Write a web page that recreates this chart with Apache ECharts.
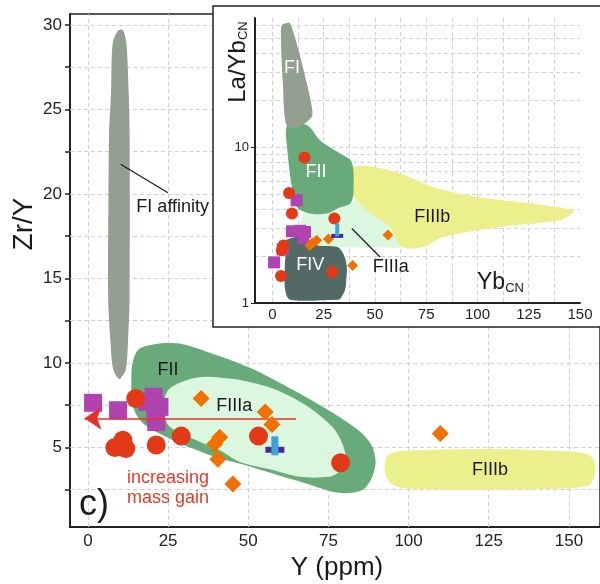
<!DOCTYPE html>
<html>
<head>
<meta charset="utf-8">
<script src="https://cdn.jsdelivr.net/npm/echarts@6/dist/echarts.min.js"></script>
<style>
html,body{margin:0;padding:0;background:#fff;}
#chartmain{width:600px;height:584px;}
</style>
</head>
<body>
<div id="chartmain"></div>
<script>
var FONT = "'Liberation Sans', Arial, sans-serif";

// ---- main plot: Zr/Y vs Y (ppm) ----
var circles = [[14.9,7.9],[8.4,5.0],[10.9,5.43],[11.8,4.94],[21.3,5.14],[29.1,5.67],[53.2,5.67],[78.8,4.09]];
var squares = [[1.6,7.64],[9.4,7.2],[18.5,7.7],[20.5,8.0],[22.3,7.4],[21.0,7.0],[21.3,6.5]];
var diamonds = [[35.3,7.9],[39.5,5.2],[41.1,5.6],[40.5,4.3],[45.2,2.83],[55.3,7.1],[57.4,6.36],[109.9,5.83]];
var cross = [[58.3,4.86]];

var fiField = [[9.3,29.65],[10.9,29.7],[12.0,28.9],[12.7,26],[13.0,23.6],[13.0,14],[12.5,11.3],[11.8,9.6],[10.2,9.1],[9.6,9.05],[7.9,9.6],[7.0,11.3],[6.3,14],[6.4,20],[6.6,23.6],[7.2,26],[7.7,28.9]];
var fiiField = [[13.6,9.57],[14.5,10.4],[16.2,10.86],[22.4,11.15],[29.6,11.11],[38,10.6],[47.2,9.97],[53.4,9.47],[65.9,8.2],[78.3,6.81],[85.5,5.83],[88.7,5.04],[89.7,4.05],[88.2,3.07],[85.5,2.47],[78.3,2.31],[68,2.87],[57.6,3.46],[47.2,4.05],[41,4.35],[32.7,4.94],[26.5,5.43],[17.2,6.42],[14.1,7.4]];
var fiiiaField = [[23.4,7.21],[24,8.0],[25.5,8.49],[30.7,8.98],[36.9,9.18],[44.1,9.08],[47.2,9.0],[57.6,8.49],[68,7.5],[76.2,6.22],[79.3,5.24],[80.4,4.25],[78.3,3.56],[75.2,3.26],[65.9,3.26],[57.6,3.66],[47.2,4.15],[41,4.84],[33.8,5.43],[25.5,6.22]];
var fiiibField = [[93,4.4],[96,4.75],[105,4.85],[125,4.9],[145,4.8],[155,4.65],[158,4.2],[158,3.3],[156,2.75],[145,2.55],[120,2.5],[100,2.55],[95,2.8],[92.8,3.4]];

var arrowLine = [[64.9,6.72],[-1.1,6.72]];
var fiLeader = [[10.2,21.76],[24.95,20.07]];

var xTicks = [0,25,50,75,100,125,150];
var yTicks = [5,10,15,20,25,30];
var yMinorTicks = [2.5,5,7.5,10,12.5,15,17.5,20,22.5,25,27.5,30];

var mainLabels = [[25,9.57,'FII'],[45.6,7.44,'FIIIa'],[125.4,3.66,'FIIIb']];
var fiLabel = [[15.1,19.24,'FI affinity']];
var gainLabel = [[24.95,2.59,'increasing\nmass gain']];
var panelLabel = [[1.86,1.59,'c)']];

// ---- inset: La/Yb(CN) vs Yb(CN) ----
var inCircles = [[15.6,8.55],[8.1,5.07],[9.5,3.74],[30.2,3.48],[5.4,2.34],[4.6,2.18],[4.2,1.49],[29.2,1.58]];
var inSquares = [[11.8,4.55],[9.5,2.88],[13.5,2.9],[15.9,2.85],[15.1,2.62],[0.8,1.82],[5,2.2]];
var inDiamonds = [[18.2,2.34],[19.5,2.42],[21.6,2.52],[27.3,2.57],[39.1,1.74],[56.3,2.73]];
var inCross = [[31.6,2.69]];

var inFI = [[4.6,60.3],[6.2,61.8],[8.6,62.1],[12.7,41.7],[16.8,25.5],[19.2,18.0],[19.2,15.6],[12.7,13.4],[7.0,13.6],[5.1,25.5],[4.1,53.3]];
var inFII = [[7.3,13.8],[16.8,13.8],[23.3,11.0],[33.0,9.07],[38.7,8.0],[39.5,5.03],[37.9,4.34],[33,4.1],[26.5,3.74],[18.4,3.74],[11.9,4.12],[9.5,5.54],[7.3,9.52]];
var inFIIIa = [[14.3,2.75],[15.1,3.74],[18.4,3.9],[26.5,3.85],[33,4.2],[38,4.5],[45,4.5],[56,3.6],[66,2.6],[66,2.3],[54.1,2.27],[42.8,2.27],[31.4,2.27],[23.3,2.27]];
var inFIIIb = [[37.9,7.1],[39.5,7.45],[46,7.55],[55,7.2],[62.3,6.75],[78.5,5.54],[99.7,4.78],[127.3,4.34],[146.8,3.93],[146,3.74],[140.3,3.39],[111,3.07],[83.4,2.65],[73.6,2.29],[67.1,2.23],[62.3,2.34],[57.4,3.07],[46,3.93],[37.9,5.25]];
var inFIV = [[5.4,2.46],[9,2.6],[13.5,2.65],[17,2.45],[21.6,2.34],[31.4,2.29],[34.6,2.07],[36.3,1.70],[36,1.4],[35.4,1.21],[33,1.06],[31.4,1.05],[8.6,1.05],[6.2,1.21],[6.0,1.6],[6.2,1.9],[6.7,2.23]];

var inLeader = [[38.7,3.0],[52.5,1.97]];
var inXTicks = [0,25,50,75,100,125,150];
var inXGrid = [0,12.5,25,37.5,50,62.5,75,87.5,100,112.5,125,137.5];
var inYGrid = [2,3,4,5,6,7,8,9,10,20,30,40,50,60];
var inYRange = [1,67];
var inWhiteLabels = [[9.5,31.8,'FI'],[21.3,6.92,'FII'],[18.4,1.74,'FIV']];
var inBlackLabels = [[77.9,3.56,'FIIIb'],[57.7,1.70,'FIIIa']];

function field(pts, color, gi, z) {
    return {
        type: 'custom', xAxisIndex: gi, yAxisIndex: gi, z: z, silent: true, data: pts,
        renderItem: function (params, api) {
            if (params.dataIndex !== 0) return;
            var p = pts.map(function (d) { return api.coord(d); });
            return { type: 'polygon', shape: { points: p, smooth: 0.3 }, style: { fill: color } };
        }
    };
}
function dots(data, symbol, size, color, gi, z, offset) {
    return {
        type: 'scatter', xAxisIndex: gi, yAxisIndex: gi, z: z, silent: true,
        symbol: symbol, symbolSize: size, symbolOffset: offset || [0, 0],
        itemStyle: { color: color, opacity: 1 }, data: data
    };
}
function texts(arr, gi, z, color, size, pos, extra) {
    var lab = { show: true, position: pos || 'inside', distance: 0, formatter: '{b}', color: color, fontSize: size, fontFamily: FONT, opacity: 1 };
    if (extra) for (var k in extra) lab[k] = extra[k];
    return {
        type: 'scatter', xAxisIndex: gi, yAxisIndex: gi, z: z, silent: true, symbolSize: 0,
        itemStyle: { opacity: 1 },
        data: arr.map(function (d) { return { value: [d[0], d[1]], name: d[2] }; }),
        label: lab
    };
}
function gridLines(gi, z, xs, ys) {
    return {
        type: 'line', xAxisIndex: gi, yAxisIndex: gi, z: z, data: [], silent: true,
        markLine: {
            z: z, silent: true, symbol: ['none', 'none'], label: { show: false }, animation: false,
            lineStyle: { color: '#d0d0d0', type: [4, 3], width: 1 },
            data: xs.map(function (v) { return { xAxis: v }; }).concat(ys.map(function (v) { return { yAxis: v }; }))
        }
    };
}
function seg(coords, gi, z, color, width, sym, symSize) {
    return {
        type: 'lines', coordinateSystem: 'cartesian2d', xAxisIndex: gi, yAxisIndex: gi, z: z, silent: true,
        symbol: sym || ['none', 'none'], symbolSize: symSize || 10,
        lineStyle: { color: color, width: width, opacity: 1 },
        itemStyle: { color: color },
        data: [{ coords: coords }]
    };
}

var axisLineStyle = { color: '#222', width: 2 };
var myChart = echarts.init(document.getElementById('chartmain'));

var option = {
    animation: false,
    grid: [
        { left: 70, top: 14, right: -2, bottom: 57, show: true, borderColor: '#222', borderWidth: 1.5, backgroundColor: 'transparent' },
        { left: 255, top: 18, right: 20, bottom: 281, show: false }
    ],
    xAxis: [
        { gridIndex: 0, type: 'value', min: -5.6, max: 159.7,
          axisLine: { show: true, onZero: false, lineStyle: axisLineStyle },
          axisTick: { show: false }, splitLine: { show: false },
          axisLabel: { customValues: xTicks, fontSize: 17, color: '#222', margin: 6, fontFamily: FONT } },
        // inset x axis: its split lines give the vertical dashed grid; fields are layered above it
        { gridIndex: 1, type: 'value', min: -8.5, max: 150, z: 20,
          axisLine: { show: true, onZero: false, lineStyle: axisLineStyle },
          axisTick: { show: false, customValues: inXGrid },
          splitLine: { show: true, lineStyle: { color: '#d0d0d0', type: [4, 3], width: 1 } },
          axisLabel: { customValues: inXTicks, fontSize: 15, color: '#222', margin: 4, fontFamily: FONT } }
    ],
    yAxis: [
        { gridIndex: 0, type: 'value', min: 0.29, max: 30.65,
          axisLine: { show: true, onZero: false, lineStyle: axisLineStyle },
          axisTick: { show: true, customValues: yMinorTicks, length: 5, lineStyle: { color: '#222', width: 1.5 } },
          splitLine: { show: false },
          axisLabel: { customValues: yTicks, fontSize: 17, color: '#222', margin: 8, fontFamily: FONT } },
        { gridIndex: 1, type: 'log', logBase: 10, min: inYRange[0], max: inYRange[1], z: 30,
          axisLine: { show: true, onZero: false, lineStyle: axisLineStyle },
          axisTick: { show: true, length: 4, lineStyle: { color: '#222' } },
          splitLine: { show: false },
          axisLabel: { fontSize: 13, color: '#222', margin: 6, showMaxLabel: false, fontFamily: FONT } }
    ],
    graphic: { elements: [
        { type: 'rect', z: 10, silent: true, shape: { x: 213, y: 6, width: 392, height: 321 },
          style: { fill: '#fff', stroke: '#222', lineWidth: 1.5 } },
        { type: 'text', z: 40, x: 24, y: 224, rotation: Math.PI / 2,
          style: { text: 'Zr/Y', fontSize: 28, fontFamily: FONT, fill: '#1a1a1a', align: 'center', verticalAlign: 'middle', textAlign: 'center', textVerticalAlign: 'middle' } },
        { type: 'text', z: 40, x: 337, y: 568,
          style: { text: 'Y (ppm)', fontSize: 26, fontFamily: FONT, fill: '#1a1a1a', align: 'center', verticalAlign: 'middle', textAlign: 'center', textVerticalAlign: 'middle' } },
        { type: 'text', z: 40, x: 238, y: 62, rotation: Math.PI / 2,
          style: { text: '{a|La/Yb}{b|CN}', fill: '#1a1a1a', align: 'center', verticalAlign: 'middle', textAlign: 'center', textVerticalAlign: 'middle',
                   rich: { a: { fontSize: 24, fontFamily: FONT, fill: '#1a1a1a' }, b: { fontSize: 13, fontFamily: FONT, fill: '#1a1a1a', verticalAlign: 'bottom' } } } },
        { type: 'text', z: 40, x: 477, y: 283,
          style: { text: '{a|Yb}{b|CN}', fill: '#1a1a1a', align: 'left', verticalAlign: 'middle', textAlign: 'left', textVerticalAlign: 'middle',
                   rich: { a: { fontSize: 23, fontFamily: FONT, fill: '#1a1a1a' }, b: { fontSize: 13, fontFamily: FONT, fill: '#1a1a1a', verticalAlign: 'bottom' } } } }
    ] },
    series: [
        // main plot
        gridLines(0, 1, xTicks, yMinorTicks),
        field(fiField, '#929f91', 0, 2),
        field(fiiField, '#68aa7a', 0, 2),
        field(fiiiaField, '#dcf7df', 0, 3),
        field(fiiibField, '#ebf08c', 0, 2),
        seg(fiLeader, 0, 4, '#1a1a1a', 1.2),
        texts(mainLabels, 0, 4, '#1a1a1a', 18),
        texts(fiLabel, 0, 4, '#1a1a1a', 18, 'right'),
        texts(gainLabel, 0, 4, '#e33a2a', 18, 'inside', { lineHeight: 20, align: 'center' }),
        texts(panelLabel, 0, 4, '#1a1a1a', 36),
        dots(squares, 'rect', 18, '#b043b0', 0, 5),
        dots(circles, 'circle', 19, '#e23a16', 0, 5),
        seg(arrowLine, 0, 6, '#e8302a', 1.5, ['none', 'arrow'], [11, 17]),
        dots(diamonds, 'diamond', 17, '#f07000', 0, 6),
        dots(cross, 'rect', [19, 6], '#4a2a9b', 0, 7),
        dots(cross, 'rect', [7, 19], '#3ea2d4', 0, 7, [0, -4]),
        // inset
        gridLines(1, 11, [], inYGrid),
        field(inFIIIa, '#dcf7df', 1, 21),
        field(inFIIIb, '#ebf08c', 1, 21),
        field(inFII, '#68aa7a', 1, 21),
        field(inFI, '#929f91', 1, 21),
        field(inFIV, '#526966', 1, 21),
        seg(inLeader, 1, 22, '#1a1a1a', 1.2),
        texts(inWhiteLabels, 1, 22, '#ffffff', 18),
        texts(inBlackLabels, 1, 22, '#1a1a1a', 18),
        dots(inSquares, 'rect', 12, '#b043b0', 1, 23),
        dots(inCircles, 'circle', 12, '#e23a16', 1, 23),
        dots(inDiamonds, 'diamond', 11, '#f07000', 1, 24),
        dots(inCross, 'rect', [12, 4], '#4a2a9b', 1, 25),
        dots(inCross, 'rect', [4, 13], '#3ea2d4', 1, 25, [0, -6])
    ]
};
myChart.setOption(option);
</script>
</body>
</html>
